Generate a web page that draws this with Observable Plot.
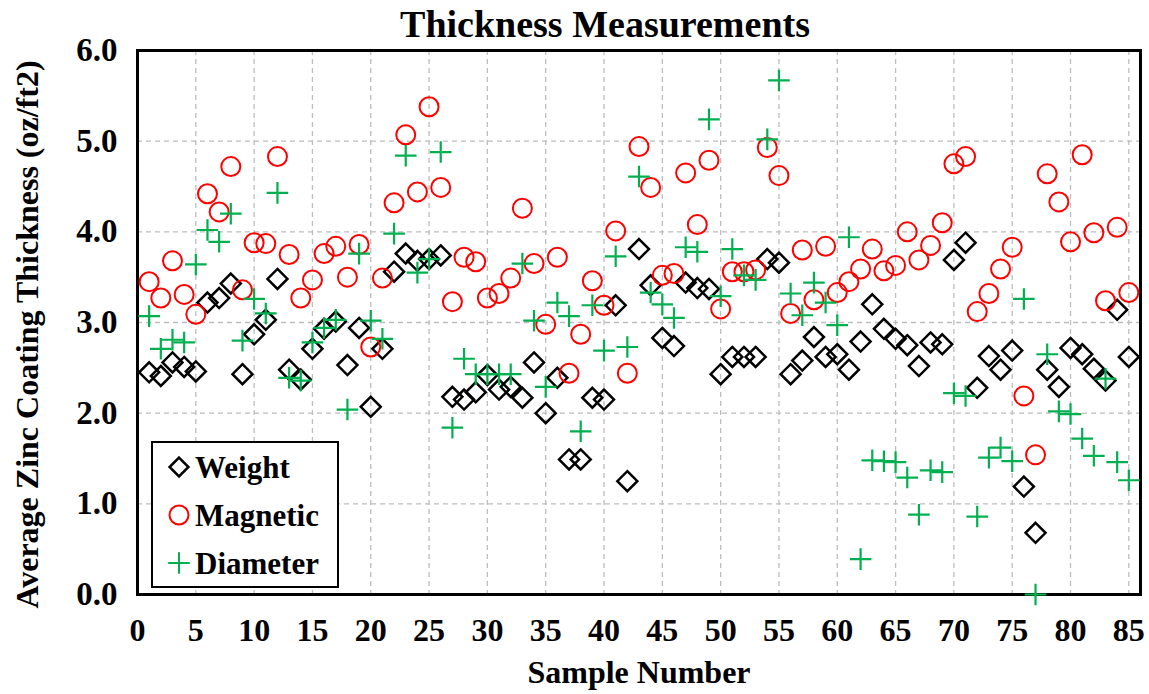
<!DOCTYPE html>
<html><head><meta charset="utf-8">
<script src="https://cdn.jsdelivr.net/npm/d3@7"></script>
<script src="https://cdn.jsdelivr.net/npm/@observablehq/plot@0.6"></script>
<style>body{margin:0;background:#fff;} #chart{width:1149px;height:694px;}</style>
</head><body><div id="chart"></div>
<script>
const samples = [1,2,3,4,5,6,7,8,9,10,11,12,13,14,15,16,17,18,19,20,21,22,23,24,25,26,27,28,29,30,31,32,33,34,35,36,37,38,39,40,41,42,43,44,45,46,47,48,49,50,51,52,53,54,55,56,57,58,59,60,61,62,63,64,65,66,67,68,69,70,71,72,73,74,75,76,77,78,79,80,81,82,83,84,85];
const weight = [2.45,2.41,2.56,2.51,2.46,3.22,3.27,3.43,2.43,2.87,3.03,3.48,2.48,2.37,2.71,2.93,3.01,2.53,2.94,2.07,2.71,3.56,3.76,3.68,3.70,3.74,2.18,2.15,2.23,2.42,2.26,2.29,2.17,2.56,2.00,2.39,1.49,1.49,2.17,2.15,3.19,1.25,3.81,3.41,2.83,2.74,3.44,3.38,3.37,2.43,2.62,2.62,2.62,3.70,3.66,2.43,2.58,2.84,2.62,2.65,2.48,2.79,3.20,2.93,2.82,2.75,2.52,2.78,2.76,3.69,3.88,2.28,2.63,2.48,2.69,1.19,0.68,2.48,2.29,2.72,2.65,2.49,2.36,3.14,2.62];
const magnetic = [3.45,3.27,3.68,3.31,3.09,4.42,4.22,4.72,3.36,3.88,3.87,4.83,3.75,3.27,3.47,3.76,3.84,3.50,3.86,2.73,3.49,4.32,5.07,4.44,5.38,4.49,3.23,3.72,3.67,3.27,3.32,3.49,4.26,3.65,2.98,3.72,2.44,2.87,3.46,3.19,4.01,2.44,4.94,4.49,3.52,3.54,4.65,4.08,4.79,3.15,3.56,3.56,3.58,4.93,4.62,3.10,3.80,3.25,3.84,3.33,3.45,3.59,3.81,3.57,3.63,4.00,3.69,3.85,4.10,4.75,4.83,3.12,3.32,3.59,3.83,2.19,1.54,4.64,4.33,3.89,4.85,3.99,3.24,4.05,3.33];
const diameter = [3.07,2.71,2.81,2.78,3.64,4.02,3.89,4.20,2.80,3.26,3.10,4.43,2.39,2.36,2.78,2.94,3.03,2.04,3.76,3.02,2.82,3.98,4.84,3.55,3.70,4.88,1.84,2.60,2.43,2.43,2.43,2.43,3.65,3.02,2.29,3.22,3.07,1.80,3.19,2.69,3.73,2.73,4.61,3.33,3.20,3.05,3.83,3.78,5.24,3.29,3.81,3.52,3.47,5.02,5.67,3.32,3.08,3.44,3.22,2.97,3.94,0.39,1.48,1.47,1.46,1.29,0.88,1.37,1.35,2.22,2.19,0.86,1.51,1.62,1.47,3.26,0.00,2.65,2.02,1.99,1.72,1.53,2.38,1.46,1.26];
const xTicks = [0,5,10,15,20,25,30,35,40,45,50,55,60,65,70,75,80,85];
const yTicks = [0,1,2,3,4,5,6];
const seriesNames = ["Weight","Magnetic","Diameter"];
const seriesColors = ["#000000","#ff0000","#00b050"];

const rows = (vals) => samples.map((s, i) => ({sample: s, value: vals[i]}));
const font = "'Liberation Serif','Times New Roman',serif";

const plot = Plot.plot({
  width: 1149, height: 694,
  marginLeft: 137, marginRight: 9, marginTop: 50, marginBottom: 100,
  style: {fontFamily: font, fontWeight: "bold", fontSize: "32px", color: "#000", background: "#fff"},
  x: {domain: [0, 86], label: null},
  y: {domain: [0, 6], label: null},
  marks: [
    Plot.gridX(xTicks, {stroke: "#bdbdbd", strokeOpacity: 1, strokeDasharray: "5,4", strokeWidth: 1.3}),
    Plot.gridY(yTicks, {stroke: "#bdbdbd", strokeOpacity: 1, strokeDasharray: "5,4", strokeWidth: 1.3}),
    Plot.frame({stroke: "#000", strokeWidth: 3}),
    Plot.axisX(xTicks, {tickSize: 0, tickPadding: 24, fontSize: 32, fontWeight: "bold"}),
    Plot.axisY(yTicks, {tickSize: 0, tickPadding: 20, fontSize: 33, fontWeight: "bold", tickFormat: d => d.toFixed(1)}),
    Plot.text(["Thickness Measurements"], {frameAnchor: "top", lineAnchor: "middle", dx: -34, dy: -26, fontSize: 38, fontWeight: "bold", fill: "#000"}),
    Plot.text(["Sample Number"], {frameAnchor: "bottom", lineAnchor: "middle", dy: 78, fontSize: 32, fontWeight: "bold", fill: "#000"}),
    Plot.text(["Average Zinc Coating Thickness (oz/ft2)"], {frameAnchor: "left", textAnchor: "middle", lineAnchor: "middle", dx: -110, dy: 12, rotate: -90, fontSize: 32, fontWeight: "bold", fill: "#000"}),
    Plot.dot(rows(weight), {x: "sample", y: "value", symbol: "diamond2", r: 9, stroke: seriesColors[0], strokeWidth: 2.5, fill: "none"}),
    Plot.dot(rows(magnetic), {x: "sample", y: "value", symbol: "circle", r: 9.5, stroke: seriesColors[1], strokeWidth: 2, fill: "none"}),
    Plot.dot(rows(diameter), {x: "sample", y: "value", symbol: "plus", r: 7, stroke: seriesColors[2], strokeWidth: 2.2})
  ]
});
document.getElementById("chart").appendChild(plot);

// legend inside plot area
const svg = d3.select(plot);
const lg = svg.append("g").attr("font-family", font).attr("font-weight", "bold").attr("font-size", 31).attr("text-anchor", "start");
lg.append("rect").attr("x", 152).attr("y", 442).attr("width", 186).attr("height", 145)
  .attr("fill", "#fff").attr("stroke", "#000").attr("stroke-width", 2);
const symbols = [d3.symbolDiamond2, d3.symbolCircle, d3.symbolPlus];
const sizes = [Math.PI*8.5*8.5, Math.PI*9.5*9.5, Math.PI*7*7];
seriesNames.forEach((name, i) => {
  const cy = 467 + i * 48;
  lg.append("path").attr("d", d3.symbol(symbols[i], sizes[i])())
    .attr("transform", `translate(179,${cy})`)
    .attr("fill", "none").attr("stroke", seriesColors[i]).attr("stroke-width", i === 0 ? 2.5 : 2);
  lg.append("text").attr("x", 195).attr("y", cy).attr("dy", "0.35em").attr("text-anchor", "start").attr("fill", "#000").text(name);
});
</script>
</body></html>
